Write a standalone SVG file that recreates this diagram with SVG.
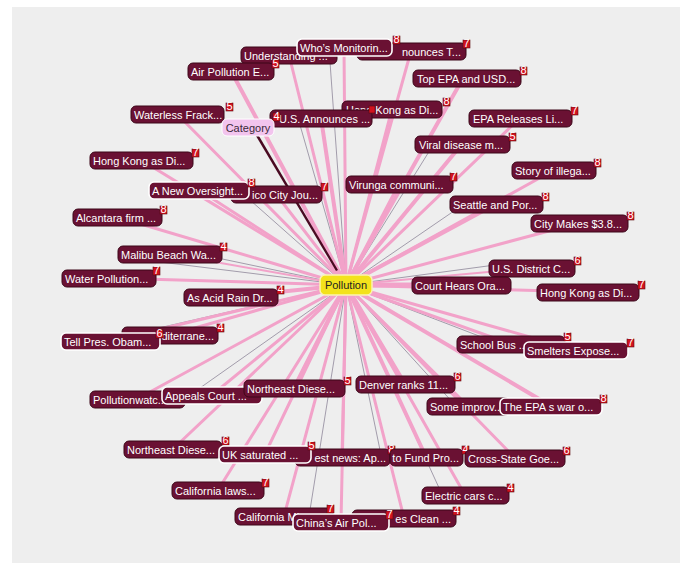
<svg xmlns="http://www.w3.org/2000/svg" width="685" height="563" viewBox="0 0 685 563">
<style>
.c line{stroke:#f2a2c9;stroke-linecap:round}
.g line{stroke:#a29cab;stroke-width:1}
.n rect.r{fill:#6a1133;stroke:#3c0619;stroke-width:1}
.n.w rect.r{stroke:#ffffff;stroke-width:1.6}
.n text{fill:#ffffff;font-family:"Liberation Sans",Arial,sans-serif;font-size:11px}
.b{fill:#d2121f;stroke:#5a0a10;stroke-width:0.6}
.bt{fill:#ffffff;font-family:"DejaVu Sans",sans-serif;font-size:6px;text-anchor:middle}
</style>
<rect x="0" y="0" width="685" height="563" fill="#ffffff"/>
<rect x="12" y="7" width="668" height="556" fill="#eeeeee"/>
<g id="connectors">
<g class="g">
<line x1="346" y1="285" x2="170" y2="248"/>
<line x1="346" y1="285" x2="160" y2="262"/>
<line x1="346" y1="285" x2="330" y2="62"/>
<line x1="346" y1="285" x2="300" y2="125"/>
<line x1="346" y1="285" x2="250" y2="200"/>
<line x1="346" y1="285" x2="430" y2="150"/>
<line x1="346" y1="285" x2="470" y2="200"/>
<line x1="346" y1="285" x2="495" y2="265"/>
<line x1="346" y1="285" x2="500" y2="344"/>
<line x1="346" y1="285" x2="455" y2="405"/>
<line x1="346" y1="285" x2="440" y2="490"/>
<line x1="346" y1="285" x2="310" y2="510"/>
<line x1="346" y1="285" x2="190" y2="395"/>
<line x1="346" y1="285" x2="150" y2="330"/>
<line x1="346" y1="285" x2="380" y2="450"/>
</g>
<g class="c">
<line x1="346" y1="285" x2="289" y2="55" stroke-width="3"/>
<line x1="346" y1="285" x2="411" y2="51" stroke-width="3"/>
<line x1="346" y1="285" x2="344" y2="47" stroke-width="3"/>
<line x1="346" y1="285" x2="231" y2="71" stroke-width="4"/>
<line x1="346" y1="285" x2="462" y2="80" stroke-width="4"/>
<line x1="346" y1="285" x2="392" y2="109" stroke-width="3"/>
<line x1="346" y1="285" x2="321" y2="118" stroke-width="4"/>
<line x1="346" y1="285" x2="520" y2="118" stroke-width="3"/>
<line x1="346" y1="285" x2="177" y2="114" stroke-width="3"/>
<line x1="346" y1="285" x2="462" y2="144" stroke-width="4"/>
<line x1="346" y1="285" x2="141" y2="160" stroke-width="3"/>
<line x1="346" y1="285" x2="554" y2="170" stroke-width="3"/>
<line x1="346" y1="285" x2="399" y2="184" stroke-width="3"/>
<line x1="346" y1="285" x2="276" y2="194" stroke-width="3"/>
<line x1="346" y1="285" x2="199" y2="190" stroke-width="3"/>
<line x1="346" y1="285" x2="496" y2="204" stroke-width="4"/>
<line x1="346" y1="285" x2="117" y2="217" stroke-width="3"/>
<line x1="346" y1="285" x2="579" y2="223" stroke-width="3"/>
<line x1="346" y1="285" x2="170" y2="254" stroke-width="2"/>
<line x1="346" y1="285" x2="532" y2="268" stroke-width="2"/>
<line x1="346" y1="285" x2="109" y2="278" stroke-width="3"/>
<line x1="346" y1="285" x2="461" y2="285" stroke-width="5"/>
<line x1="346" y1="285" x2="588" y2="292" stroke-width="3"/>
<line x1="346" y1="285" x2="231" y2="297" stroke-width="4"/>
<line x1="346" y1="285" x2="170" y2="335" stroke-width="3"/>
<line x1="346" y1="285" x2="110" y2="341" stroke-width="3"/>
<line x1="346" y1="285" x2="511" y2="344" stroke-width="3"/>
<line x1="346" y1="285" x2="576" y2="350" stroke-width="3"/>
<line x1="346" y1="285" x2="137" y2="399" stroke-width="3"/>
<line x1="346" y1="285" x2="212" y2="395" stroke-width="3"/>
<line x1="346" y1="285" x2="294" y2="388" stroke-width="4"/>
<line x1="346" y1="285" x2="405" y2="384" stroke-width="4"/>
<line x1="346" y1="285" x2="468" y2="406" stroke-width="3"/>
<line x1="346" y1="285" x2="551" y2="406" stroke-width="4"/>
<line x1="346" y1="285" x2="173" y2="449" stroke-width="3"/>
<line x1="346" y1="285" x2="342" y2="457" stroke-width="3"/>
<line x1="346" y1="285" x2="265" y2="454" stroke-width="3"/>
<line x1="346" y1="285" x2="426" y2="457" stroke-width="4"/>
<line x1="346" y1="285" x2="515" y2="458" stroke-width="3"/>
<line x1="346" y1="285" x2="218" y2="490" stroke-width="3"/>
<line x1="346" y1="285" x2="465" y2="495" stroke-width="3"/>
<line x1="346" y1="285" x2="284" y2="516" stroke-width="3"/>
<line x1="346" y1="285" x2="404" y2="518" stroke-width="3"/>
<line x1="346" y1="285" x2="341" y2="522" stroke-width="3"/>
</g>
<polygon points="256,136 259,136 338,270 336,271" fill="#4a0a22"/>
</g>

<g id="n_understanding" class="n"><rect class="r" x="241" y="47" width="96" height="17" rx="5"/><text x="244" y="60">Understanding ...</text></g>
<g id="n_announces_t" class="n"><rect class="r" x="357" y="43" width="109" height="17" rx="5"/><text x="461" y="55.5" text-anchor="end">nounces T...</text><rect class="b" x="463" y="40" width="7" height="8"/><text class="bt" x="466.5" y="46.5">7</text></g>
<g id="n_whos" class="n w"><rect class="r" x="297" y="39" width="95" height="17" rx="5"/><text x="300" y="51.5">Who’s Monitorin...</text><rect class="b" x="393" y="36" width="7" height="8"/><text class="bt" x="396.5" y="42.5">8</text></g>
<g id="n_airpollution" class="n"><rect class="r" x="188" y="63" width="86" height="17" rx="5"/><text x="191" y="75.5">Air Pollution E...</text><rect class="b" x="272" y="60" width="7" height="8"/><text class="bt" x="275.5" y="66.5">5</text></g>
<g id="n_topepa" class="n"><rect class="r" x="413" y="70" width="108" height="17" rx="5"/><text x="417" y="82.5">Top EPA and USD...</text><rect class="b" x="520" y="67" width="7" height="8"/><text class="bt" x="523.5" y="73.5">8</text></g>
<g id="n_hk_top" class="n"><rect class="r" x="342" y="101" width="100" height="17" rx="5"/><text x="346" y="113.5">Hong Kong as Di...</text><rect class="b" x="443" y="98" width="7" height="8"/><text class="bt" x="446.5" y="104.5">8</text></g>
<g id="n_usannounces" class="n"><rect class="r" x="270" y="110" width="102" height="17" rx="5"/><text x="279" y="122.5">U.S. Announces ...</text><rect class="b" x="369" y="106" width="6" height="7"/><rect class="b" x="273" y="113" width="7" height="8"/><text class="bt" x="276.5" y="119.5">4</text></g>
<g id="n_eparel" class="n"><rect class="r" x="469" y="110" width="103" height="17" rx="5"/><text x="473" y="122.5">EPA Releases Li...</text><rect class="b" x="571" y="107" width="7" height="8"/><text class="bt" x="574.5" y="113.5">7</text></g>
<g id="n_waterless" class="n"><rect class="r" x="131" y="106" width="93" height="17" rx="5"/><text x="134" y="118.5">Waterless Frack...</text><rect class="b" x="226" y="103" width="7" height="8"/><text class="bt" x="229.5" y="109.5">5</text></g>
<g id="n_category"><rect x="222" y="119" width="52" height="17" rx="5" fill="#f2c4ee" stroke="#ffffff" stroke-width="1"/><text x="248" y="131.5" text-anchor="middle" fill="#3a2a3a" font-family="Liberation Sans, Arial, sans-serif" font-size="11px">Category</text></g>
<g id="n_viral" class="n"><rect class="r" x="415" y="136" width="95" height="17" rx="5"/><text x="419" y="148.5">Viral disease m...</text><rect class="b" x="509" y="133" width="7" height="8"/><text class="bt" x="512.5" y="139.5">5</text></g>
<g id="n_hk_left" class="n"><rect class="r" x="90" y="152" width="103" height="17" rx="5"/><text x="93" y="164.5">Hong Kong as Di...</text><rect class="b" x="192" y="149" width="7" height="8"/><text class="bt" x="195.5" y="155.5">7</text></g>
<g id="n_story" class="n"><rect class="r" x="512" y="162" width="84" height="17" rx="5"/><text x="515" y="174.5">Story of illega...</text><rect class="b" x="594" y="159" width="7" height="8"/><text class="bt" x="597.5" y="165.5">8</text></g>
<g id="n_virunga" class="n"><rect class="r" x="346" y="176" width="107" height="17" rx="5"/><text x="349" y="188.5">Virunga communi...</text><rect class="b" x="450" y="173" width="7" height="8"/><text class="bt" x="453.5" y="179.5">7</text></g>
<g id="n_mexico" class="n"><rect class="r" x="231" y="186" width="91" height="17" rx="5"/><text x="318" y="198.5" text-anchor="end">ico City Jou...</text><rect class="b" x="321" y="183" width="7" height="8"/><text class="bt" x="324.5" y="189.5">7</text></g>
<g id="n_oversight" class="n w"><rect class="r" x="149" y="182" width="100" height="17" rx="5"/><text x="152" y="194.5">A New Oversight...</text><rect class="b" x="248" y="179" width="7" height="8"/><text class="bt" x="251.5" y="185.5">8</text></g>
<g id="n_seattle" class="n"><rect class="r" x="450" y="196" width="93" height="17" rx="5"/><text x="453" y="208.5">Seattle and Por...</text><rect class="b" x="542" y="193" width="7" height="8"/><text class="bt" x="545.5" y="199.5">8</text></g>
<g id="n_alcantara" class="n"><rect class="r" x="73" y="209" width="89" height="17" rx="5"/><text x="76" y="221.5">Alcantara firm ...</text><rect class="b" x="160" y="206" width="7" height="8"/><text class="bt" x="163.5" y="212.5">8</text></g>
<g id="n_citymakes" class="n"><rect class="r" x="531" y="215" width="97" height="17" rx="5"/><text x="534" y="227.5">City Makes $3.8...</text><rect class="b" x="627" y="212" width="7" height="8"/><text class="bt" x="630.5" y="218.5">8</text></g>
<g id="n_malibu" class="n"><rect class="r" x="118" y="246" width="104" height="17" rx="5"/><text x="121" y="258.5">Malibu Beach Wa...</text><rect class="b" x="220" y="243" width="7" height="8"/><text class="bt" x="223.5" y="249.5">4</text></g>
<g id="n_usdistrict" class="n"><rect class="r" x="489" y="260" width="86" height="17" rx="5"/><text x="492" y="272.5">U.S. District C...</text><rect class="b" x="574" y="257" width="7" height="8"/><text class="bt" x="577.5" y="263.5">6</text></g>
<g id="n_waterpoll" class="n"><rect class="r" x="62" y="270" width="94" height="17" rx="5"/><text x="65" y="282.5">Water Pollution...</text><rect class="b" x="153" y="267" width="7" height="8"/><text class="bt" x="156.5" y="273.5">7</text></g>
<g id="n_courthears" class="n"><rect class="r" x="412" y="277" width="99" height="17" rx="5"/><text x="415" y="289.5">Court Hears Ora...</text></g>
<g id="n_hk_right" class="n"><rect class="r" x="537" y="284" width="102" height="17" rx="5"/><text x="540" y="296.5">Hong Kong as Di...</text><rect class="b" x="638" y="281" width="7" height="8"/><text class="bt" x="641.5" y="287.5">7</text></g>
<g id="n_acidrain" class="n"><rect class="r" x="184" y="289" width="94" height="17" rx="5"/><text x="187" y="301.5">As Acid Rain Dr...</text><rect class="b" x="277" y="286" width="7" height="8"/><text class="bt" x="280.5" y="292.5">4</text></g>
<g id="n_mediterr" class="n"><rect class="r" x="122" y="327" width="96" height="17" rx="5"/><text x="214" y="339.5" text-anchor="end">diterrane...</text><rect class="b" x="217" y="324" width="7" height="8"/><text class="bt" x="220.5" y="330.5">4</text></g>
<g id="n_tellpres" class="n w"><rect class="r" x="61" y="333" width="99" height="17" rx="5"/><text x="64" y="345.5">Tell Pres. Obam...</text><rect class="b" x="156" y="330" width="7" height="8"/><text class="bt" x="159.5" y="336.5">6</text></g>
<g id="n_schoolbus" class="n"><rect class="r" x="457" y="336" width="108" height="17" rx="5"/><text x="460" y="348.5">School Bus ...</text><rect class="b" x="564" y="333" width="7" height="8"/><text class="bt" x="567.5" y="339.5">5</text></g>
<g id="n_smelters" class="n w"><rect class="r" x="524" y="342" width="104" height="17" rx="5"/><text x="527" y="354.5">Smelters Expose...</text><rect class="b" x="627" y="339" width="7" height="8"/><text class="bt" x="630.5" y="345.5">7</text></g>
<g id="n_pollwatch" class="n"><rect class="r" x="90" y="391" width="95" height="17" rx="5"/><text x="93" y="403.5">Pollutionwatc...</text></g>
<g id="n_appeals" class="n w"><rect class="r" x="162" y="387" width="100" height="17" rx="5"/><text x="165" y="399.5">Appeals Court ...</text></g>
<g id="n_northeast1" class="n"><rect class="r" x="244" y="380" width="101" height="17" rx="5"/><text x="247" y="392.5">Northeast Diese...</text><rect class="b" x="344" y="377" width="7" height="8"/><text class="bt" x="347.5" y="383.5">5</text></g>
<g id="n_denver" class="n"><rect class="r" x="356" y="376" width="99" height="17" rx="5"/><text x="359" y="388.5">Denver ranks 11...</text><rect class="b" x="454" y="373" width="7" height="8"/><text class="bt" x="457.5" y="379.5">6</text></g>
<g id="n_someimprov" class="n"><rect class="r" x="427" y="398" width="83" height="17" rx="5"/><text x="430" y="410.5">Some  improv...</text></g>
<g id="n_epawar" class="n w"><rect class="r" x="500" y="398" width="102" height="17" rx="5"/><text x="503" y="410.5">The EPA s war o...</text><rect class="b" x="600" y="395" width="7" height="8"/><text class="bt" x="603.5" y="401.5">8</text></g>
<g id="n_northeast2" class="n"><rect class="r" x="124" y="441" width="98" height="17" rx="5"/><text x="127" y="453.5">Northeast Diese...</text><rect class="b" x="222" y="437" width="7" height="8"/><text class="bt" x="225.5" y="443.5">6</text></g>
<g id="n_latest" class="n"><rect class="r" x="295" y="449" width="95" height="17" rx="5"/><text x="386" y="461.5" text-anchor="end">est news: Ap...</text><rect class="b" x="388" y="446" width="7" height="8"/><text class="bt" x="391.5" y="452.5">8</text></g>
<g id="n_uk" class="n w"><rect class="r" x="219" y="446" width="92" height="17" rx="5"/><text x="222" y="458.5">UK  saturated ...</text><rect class="b" x="308" y="442" width="7" height="8"/><text class="bt" x="311.5" y="448.5">5</text></g>
<g id="n_tofund" class="n"><rect class="r" x="390" y="449" width="73" height="17" rx="5"/><text x="459" y="461.5" text-anchor="end">to Fund Pro...</text><rect class="b" x="462" y="446" width="7" height="8"/><text class="bt" x="465.5" y="452.5">4</text></g>
<g id="n_crossstate" class="n"><rect class="r" x="465" y="450" width="100" height="17" rx="5"/><text x="468" y="462.5">Cross-State Goe...</text><rect class="b" x="563" y="447" width="7" height="8"/><text class="bt" x="566.5" y="453.5">6</text></g>
<g id="n_calilaws" class="n"><rect class="r" x="172" y="482" width="92" height="17" rx="5"/><text x="175" y="494.5">California laws...</text><rect class="b" x="262" y="479" width="7" height="8"/><text class="bt" x="265.5" y="485.5">7</text></g>
<g id="n_electric" class="n"><rect class="r" x="422" y="487" width="87" height="17" rx="5"/><text x="425" y="499.5">Electric cars c...</text><rect class="b" x="507" y="484" width="7" height="8"/><text class="bt" x="510.5" y="490.5">4</text></g>
<g id="n_calimi" class="n"><rect class="r" x="235" y="508" width="98" height="17" rx="5"/><text x="238" y="520.5">California Mi...</text><rect class="b" x="327" y="505" width="7" height="8"/><text class="bt" x="330.5" y="511.5">7</text></g>
<g id="n_clean" class="n"><rect class="r" x="352" y="510" width="104" height="17" rx="5"/><text x="451" y="522.5" text-anchor="end">es Clean ...</text><rect class="b" x="453" y="507" width="7" height="8"/><text class="bt" x="456.5" y="513.5">4</text></g>
<g id="n_china" class="n w"><rect class="r" x="293" y="514" width="96" height="17" rx="5"/><text x="296" y="526.5">China’s Air Pol...</text><rect class="b" x="386" y="511" width="7" height="8"/><text class="bt" x="389.5" y="517.5">7</text></g>
<g id="n_pollution"><rect x="320" y="275" width="52" height="20" rx="5" fill="#f3e21c" stroke="#fbf3b0" stroke-width="1.5"/><text x="346" y="289" text-anchor="middle" fill="#222222" font-family="Liberation Sans, Arial, sans-serif" font-size="11px">Pollution</text></g>
</svg>
